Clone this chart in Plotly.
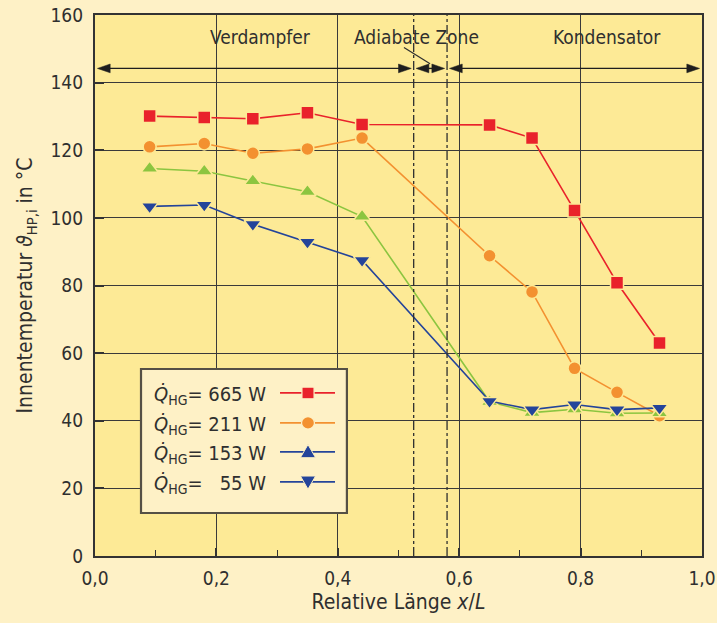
import plotly.graph_objects as go

# ---- data ----
x_pos = [0.09, 0.18, 0.26, 0.35, 0.44, 0.65, 0.72, 0.79, 0.86, 0.93]
t_665 = [130.1, 129.7, 129.3, 131.1, 127.6, 127.5, 123.6, 102.2, 80.8, 63.0]
t_211 = [121.0, 122.0, 119.1, 120.4, 123.6, 88.8, 78.1, 55.5, 48.4, 41.5]
t_153 = [114.6, 113.8, 110.9, 107.7, 100.4, 45.6, 42.4, 43.4, 42.2, 42.3]
t_55 = [103.4, 103.8, 98.1, 92.9, 87.5, 45.8, 43.3, 44.8, 43.3, 43.8]
series_names = ["665 W", "211 W", "153 W", "55 W"]
legend_labels = ["= 665 W", "= 211 W", "= 153 W", "=   55 W"]
x_ticks = [0.0, 0.2, 0.4, 0.6, 0.8, 1.0]
y_ticks = [0, 20, 40, 60, 80, 100, 120, 140, 160]
zone_bounds = [0.0, 0.525, 0.58, 1.0]
zone_names = ["Verdampfer", "Adiabate Zone", "Kondensator"]

RED = "#E9222B"
ORANGE = "#F39130"
GREEN = "#8CC540"
BLUE = "#24449A"
PLOT_BG = "#FDEA96"
PAGE_BG = "#FEF1C6"
INK = "#2f2f2f"
FONT = "Liberation Sans Narrow, DejaVu Sans Condensed, Open Sans, sans-serif"

fig = go.Figure()

def add_series(y, color, symbol, size, name):
    fig.add_trace(go.Scatter(
        x=x_pos, y=y, mode="lines+markers", name=name, showlegend=False,
        line=dict(color=color, width=1.6),
        marker=dict(symbol=symbol, size=size, color=color,
                    line=dict(color=PLOT_BG, width=1.5)),
    ))

add_series(t_665, RED, "square", 13, series_names[0])
add_series(t_211, ORANGE, "circle", 13, series_names[1])
add_series(t_153, GREEN, "triangle-up", 15, series_names[2])
add_series(t_55, BLUE, "triangle-down", 15, series_names[3])

shapes = []
annotations = []

# dash-dot zone boundaries
for xb in zone_bounds[1:3]:
    shapes.append(dict(type="line", xref="x", yref="paper", x0=xb, x1=xb, y0=0, y1=1,
                       line=dict(color=INK, width=1.3, dash="dashdot")))

# zone arrows (double-headed, heads drawn as filled triangles)
ARROW_Y = 144.2
HEAD_DX = 0.021   # head length in x units
HEAD_DY = 1.3     # head half height in y units
GAP = 0.004
ARROW_COL = "#1e1e1e"
for i in range(3):
    a = zone_bounds[i] + (GAP if i > 0 else 0.004)
    b = zone_bounds[i + 1] - (GAP if i < 2 else 0.004)
    shapes.append(dict(type="line", xref="x", yref="y", x0=a + HEAD_DX * 0.5, x1=b - HEAD_DX * 0.5,
                       y0=ARROW_Y, y1=ARROW_Y, line=dict(color=ARROW_COL, width=1.4)))
    pl = f"M {a} {ARROW_Y} L {a + HEAD_DX} {ARROW_Y + HEAD_DY} L {a + HEAD_DX} {ARROW_Y - HEAD_DY} Z"
    pr = f"M {b} {ARROW_Y} L {b - HEAD_DX} {ARROW_Y + HEAD_DY} L {b - HEAD_DX} {ARROW_Y - HEAD_DY} Z"
    for p in (pl, pr):
        shapes.append(dict(type="path", xref="x", yref="y", path=p, fillcolor=ARROW_COL,
                           line=dict(color=ARROW_COL, width=0.5)))

zone_label_x = [0.273, 0.53, 0.843]
for nm, lx in zip(zone_names, zone_label_x):
    annotations.append(dict(x=lx, y=153.5, xref="x", yref="y", text=nm, showarrow=False,
                            font=dict(family=FONT, size=19, color=INK)))
# leader line for "Adiabate Zone"
shapes.append(dict(type="line", xref="x", yref="y", x0=0.509, y0=150.4, x1=0.552, y1=145.6,
                   line=dict(color=INK, width=1.2)))

# ---- manual legend ----
lx0, lx1 = 0.0758, 0.415
ly0, ly1 = 0.0795, 0.3457
shapes.append(dict(type="rect", xref="paper", yref="paper", x0=lx0, x1=lx1, y0=ly0, y1=ly1,
                   fillcolor=PAGE_BG, line=dict(color="#555045", width=2.2), layer="above"))
row_y = [0.3015, 0.2460, 0.1925, 0.1370]
leg_colors = [RED, ORANGE, BLUE, BLUE]
leg_syms = ["square", "circle", "up", "down"]
sx0, sx1, sxm = 0.3048, 0.3954, 0.3509
hw = 0.0125  # marker half width in paper x
hh = 0.0135  # marker half height in paper y
for yv, col, sym, lab in zip(row_y, leg_colors, leg_syms, legend_labels):
    shapes.append(dict(type="line", xref="paper", yref="paper", x0=sx0, x1=sx1, y0=yv, y1=yv,
                       line=dict(color=col, width=1.6), layer="above"))
    if sym == "square":
        shapes.append(dict(type="rect", xref="paper", yref="paper", x0=sxm - hw * 0.8, x1=sxm + hw * 0.8,
                           y0=yv - hh * 0.8, y1=yv + hh * 0.8, fillcolor=col,
                           line=dict(color=PAGE_BG, width=1.2), layer="above"))
    elif sym == "circle":
        shapes.append(dict(type="circle", xref="paper", yref="paper", x0=sxm - hw * 0.85, x1=sxm + hw * 0.85,
                           y0=yv - hh * 0.85, y1=yv + hh * 0.85, fillcolor=col,
                           line=dict(color=PAGE_BG, width=1.2), layer="above"))
    elif sym == "up":
        p = f"M {sxm - hw} {yv - hh * 0.8} L {sxm + hw} {yv - hh * 0.8} L {sxm} {yv + hh} Z"
        shapes.append(dict(type="path", xref="paper", yref="paper", path=p, fillcolor=col,
                           line=dict(color=PAGE_BG, width=1), layer="above"))
    else:
        p = f"M {sxm - hw} {yv + hh * 0.8} L {sxm + hw} {yv + hh * 0.8} L {sxm} {yv - hh} Z"
        shapes.append(dict(type="path", xref="paper", yref="paper", path=p, fillcolor=col,
                           line=dict(color=PAGE_BG, width=1), layer="above"))
    annotations.append(dict(x=0.094, y=yv - 0.004, xref="paper", yref="paper", xanchor="left",
                            yanchor="middle", showarrow=False,
                            text=f"<i>Q\u0307</i><sub>HG</sub>{lab}",
                            font=dict(family=FONT, size=20, color=INK)))

fig.update_layout(
    width=717, height=623,
    margin=dict(l=95, r=15, t=15, b=67),
    paper_bgcolor=PAGE_BG, plot_bgcolor=PLOT_BG,
    separators=", ",
    font=dict(family=FONT, size=19, color=INK),
    shapes=shapes, annotations=annotations,
    showlegend=False,
)
fig.update_xaxes(
    range=[0, 1], tickvals=x_ticks, tickformat=".1f",
    showgrid=True, gridcolor="#3a3a3a", gridwidth=1.2,
    showline=True, linecolor="#333333", linewidth=2.2, mirror=True,
    ticks="inside", ticklen=8, tickwidth=1.5, tickcolor="#333333",
    minor=dict(ticks="inside", dtick=0.1, ticklen=6, tickwidth=1.3, tickcolor="#333333", showgrid=False),
    zeroline=False, ticklabelstandoff=4, automargin=False,
    title=dict(text="Relative Länge <i>x</i>/<i>L</i>", font=dict(size=21), standoff=6),
)
fig.update_yaxes(
    range=[0, 160], tickvals=y_ticks,
    showgrid=True, gridcolor="#3a3a3a", gridwidth=1.2,
    showline=True, linecolor="#333333", linewidth=2.2, mirror=True,
    ticks="inside", ticklen=9, tickwidth=2.2, tickcolor="#333333",
    zeroline=False, ticklabelstandoff=6, automargin=False,
    title=dict(text="Innentemperatur <i>\u03d1</i><sub>HP,i</sub> in °C", font=dict(size=21), standoff=12),
)

fig.write_html(
    "out.html",
    config={"displayModeBar": False},
    post_script="document.body.style.margin='0';document.body.style.background='" + PAGE_BG + "';",
)
